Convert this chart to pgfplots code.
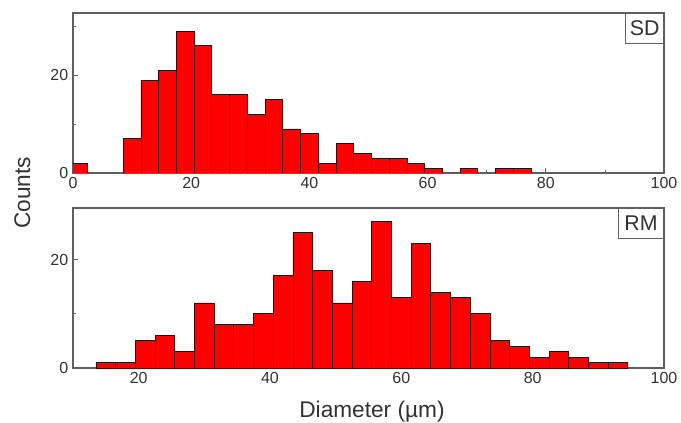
\documentclass[border=0pt]{standalone}
\usepackage{pgfplots}
\pgfplotsset{compat=1.18}
\usepackage{fontspec}
\setmainfont{Liberation Sans}

\definecolor{barred}{RGB}{255,0,0}
\definecolor{baredge}{RGB}{70,0,0}
\definecolor{framegray}{RGB}{95,95,95}
\definecolor{textgray}{RGB}{50,50,50}

\tikzset{boxlab/.style={draw=framegray, line width=0.7pt, fill=white, text=textgray,
    font=\fontsize{16}{18}\selectfont, minimum height=22.5pt, inner xsep=3pt,
    anchor=north east},
  bars/.style={fill=barred, draw=baredge, line width=0.6pt}}

\pgfplotsset{histo/.style={
  scale only axis, width=443.25pt, height=120pt,
  ybar, bar width=3, ymin=0,
  axis line style={framegray, line width=0.8pt},
  tick style={framegray, line width=0.6pt},
  tick align=inside,
  major tick length=3.5pt, minor tick length=2pt,
  xtick pos=bottom, ytick pos=left,
  xtick={0,20,...,100}, minor x tick num=1,
  ytick={0,20}, minor ytick={10,30},
  tick label style={font=\fontsize{12}{14}\selectfont, text=textgray},
  /pgf/number format/assume math mode=true,
}}

\begin{document}
\begin{tikzpicture}
\useasboundingbox (-54.75pt,9.75pt) rectangle (456pt,-307.5pt);

% SD
\begin{axis}[histo, name=top, at={(0,0)}, anchor=north west,
  xmin=0, xmax=100, ymax=32.7]
\addplot[bars] coordinates {(1,2) (10,7) (13,19) (16,21) (19,29) (22,26) (25,16)
  (28,16) (31,12) (34,15) (37,9) (40,8) (43,2) (46,6) (49,4) (52,3) (55,3)
  (58,2) (61,1) (67,1) (73,1) (76,1)};
\node[boxlab] at (rel axis cs:1,1) {SD};
\end{axis}

% RM
\begin{axis}[histo, name=bot, at={(0,-146.25pt)}, anchor=north west,
  xmin=10, xmax=100, ymax=29.5]
\addplot[bars] coordinates {(15,1) (18,1) (21,5) (24,6) (27,3) (30,12) (33,8)
  (36,8) (39,10) (42,17) (45,25) (48,18) (51,12) (54,16) (57,27) (60,13)
  (63,23) (66,14) (69,13) (72,10) (75,5) (78,4) (81,2) (84,3) (87,2)
  (90,1) (93,1)};
\node[boxlab, inner xsep=4.5pt] at (rel axis cs:1,1) {RM};
\end{axis}

\node[rotate=90, anchor=base, text=textgray, font=\fontsize{17}{19}\selectfont]
  at (-32.25pt,-135pt) {Counts};
\node[anchor=base, text=textgray, font=\fontsize{17}{19}\selectfont]
  at (224.25pt,-303.5pt) {Diameter (µm)};
\end{tikzpicture}
\end{document}
